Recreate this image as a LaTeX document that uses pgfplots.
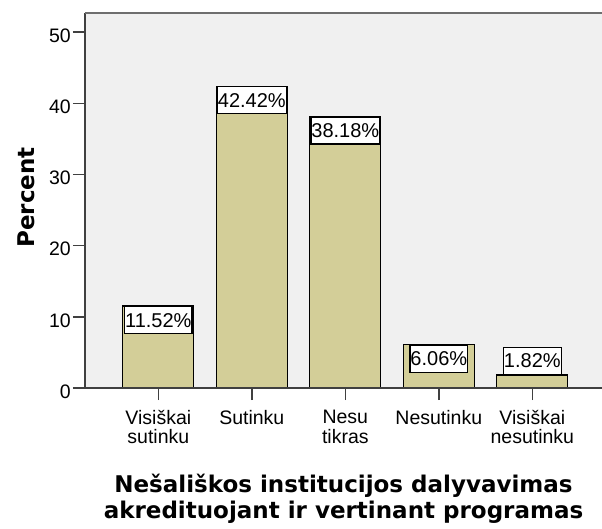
\documentclass[border=0pt]{standalone}
\usepackage{pgfplots}
\pgfplotsset{compat=1.18}
\usepackage{fontspec}
\setmainfont{Liberation Sans}
\newfontfamily\titlefont{DejaVu Sans}
\definecolor{bgc}{RGB}{240,240,240}
\definecolor{barc}{RGB}{211,206,152}
\definecolor{axc}{RGB}{64,64,64}
\definecolor{topc}{RGB}{110,110,110}
\tikzset{labelbox/.style={fill=white, draw=black, line width=1.2bp, inner xsep=0.5bp, inner ysep=0pt,
    minimum height=27bp, text=black, font=\fontsize{20bp}{24bp}\selectfont}}
\begin{document}
\begin{tikzpicture}
\begin{axis}[
  at={(0,0)}, anchor=south west,
  scale only axis, width=517bp, height=375bp,
  xmin=-0.784, xmax=4.745, ymin=0, ymax=52.7,
  axis line style={draw=none},
  axis background/.style={fill=bgc},
  ytick={0,10,20,30,40,50},
  xtick={0,1,2,3,4},
  xticklabels={{Visiškai\\sutinku},{Sutinku},{Nesu\\tikras},{Nesutinku},{Visiškai\\nesutinku}},
  tick align=outside, major tick length=12bp,
  xtick pos=bottom, ytick pos=left,
  tick style={axc, line width=1.5bp},
  /pgf/number format/assume math mode=true,
  ticklabel style={font=\fontsize{19.5bp}{19.5bp}\selectfont},
  yticklabel style={anchor=east, inner sep=0pt, xshift=-2bp, yshift=-3.5bp},
  xticklabel style={anchor=north, inner sep=0pt, align=center, yshift=-10bp},
  ylabel={Percent},
  ylabel style={at={(axis description cs:-0.114,0.508)}, anchor=center, inner sep=0pt,
    font=\titlefont\bfseries\fontsize{23bp}{26bp}\selectfont},
  xlabel={Nešališkos institucijos dalyvavimas\\akredituojant ir vertinant programas},
  xlabel style={at={(axis description cs:0.5,0)}, anchor=north, yshift=-86bp, inner sep=0pt, align=center,
    font=\titlefont\bfseries\fontsize{23bp}{26bp}\selectfont},
  after end axis/.code={
    \draw[axc, line width=2bp] (rel axis cs:0,1) -- (rel axis cs:0,0) -- (rel axis cs:1,0);
    \draw[topc, line width=2.5bp] (rel axis cs:0,1) -- (rel axis cs:1,1);
  },
]
\addplot[ybar, bar width=71bp, bar shift=0pt, fill=barc, draw=black, line width=1.2bp,
  nodes near coords, point meta=explicit symbolic,
  every node near coord/.append style={labelbox, anchor=north}]
  coordinates {(0,11.52) [11.52\%] (1,42.42) [42.42\%] (2,38.18) [38.18\%] (3,6.06) [6.06\%]};
\addplot[ybar, bar width=71bp, bar shift=0pt, fill=barc, draw=black, line width=1.2bp,
  nodes near coords, point meta=explicit symbolic,
  every node near coord/.append style={labelbox, anchor=south}]
  coordinates {(4,1.82) [1.82\%]};
\end{axis}
\pgfresetboundingbox
\useasboundingbox (-85bp,-141bp) rectangle (517bp,388bp);
\end{tikzpicture}
\end{document}
